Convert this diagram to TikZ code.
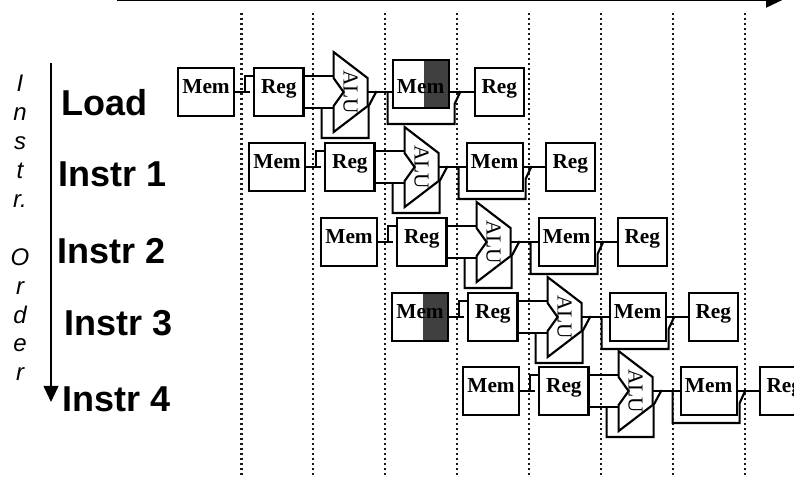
\documentclass[tikz,border=0pt]{standalone}
\usepackage{fontspec}
\setmainfont{Liberation Serif}
\setsansfont{Liberation Sans}
\usetikzlibrary{arrows.meta,positioning}
\definecolor{figdark}{gray}{0.25}
\definecolor{figgrid}{gray}{0.1}

\begin{document}
\begin{tikzpicture}[
    x=0.75pt, y=-0.75pt,
    unit/.style={rectangle, draw=black, line width=1.6pt, inner sep=0pt,
        minimum height=36pt, text height=8pt, text depth=6.5pt,
        font=\fontsize{16}{16}\selectfont\bfseries},
    memunit/.style={unit, minimum width=42pt},
    regunit/.style={unit, minimum width=37pt},
    memstall/.style={memunit, path picture={
        \fill[figdark] ([xshift=-18.75pt]path picture bounding box.south east) rectangle (path picture bounding box.north east);}},
    memlift/.style={memstall, text height=20pt, yshift=6pt, xshift=-2.25pt},
    aluunit/.style={rectangle, inner sep=0pt, outer sep=0pt, minimum width=25.5pt,
        minimum height=60pt, font=\fontsize{16}{16}\selectfont},
    pipe/.style={draw=black, line width=1.6pt},
    instr/.style={anchor=base west, inner sep=0pt, font=\fontsize{27}{27}\selectfont\sffamily\bfseries},
    phase/.style={draw=figgrid, line width=1.6pt, dash pattern=on 1.6pt off 2.15pt},
    timeline/.style={-{Triangle[length=12pt,width=11pt]}, draw=black, line width=1.5pt}
]
    \useasboundingbox (0,0) rectangle (794,477);
    \clip (0,0) rectangle (794,477);

    % clock phases
    \foreach \i/\x in {1/241.5,2/313,3/385,4/457,5/529,6/601,7/673,8/745} {
        \coordinate (top\i) at (\x,13);
        \coordinate (bot\i) at (\x,475);
        \draw[phase] (top\i) -- (bot\i);
    }

    % axes
    \coordinate (timestart) at (117,0.2);
    \coordinate (timeend) at (782,0.2);
    \draw[timeline] (timestart) -- (timeend);
    \coordinate (orderstart) at (51,63);
    \coordinate (orderend) at (51,402);
    \draw[timeline] (orderstart) -- (orderend);

    \node[align=center, inner sep=0pt, font=\fontsize{18}{21.7}\selectfont\sffamily\itshape] (order) at (20,228)
        {I\\n\\s\\t\\r.\\ \\O\\r\\d\\e\\r};

    \node[instr] (name0) at (61,116) {Load};
    \node[instr] (name1) at (58,187) {Instr 1};
    \node[instr] (name2) at (57,264) {Instr 2};
    \node[instr] (name3) at (64,336) {Instr 3};
    \node[instr] (name4) at (62,412) {Instr 4};

    % one row per instruction
    \foreach \row/\px/\py/\fetchstyle/\accessstyle in {
        0/177/67/memunit/memlift,
        1/248/142/memunit/memunit,
        2/320/217/memunit/memunit,
        3/391/292/memstall/memunit,
        4/462/366/memunit/memunit} {
        \node[\fetchstyle, anchor=north west] (fetch\row) at (\px,\py) {Mem};
        \node[regunit, right=13.5pt of fetch\row] (decode\row) {Reg};
        \node[aluunit, right=21.75pt of decode\row] (alu\row) {\rotatebox{-90}{ALU}\hspace{14pt}};
        \node[right=20.25pt of alu\row, \accessstyle] (access\row) {Mem};
        \node[regunit, right=79.5pt of alu\row] (write\row) {Reg};

        \draw[pipe, line join=miter] (alu\row.north west) -- ([yshift=-19.5pt]alu\row.north east)
            -- ([yshift=19.5pt]alu\row.south east) -- (alu\row.south west)
            -- ([yshift=19.5pt]alu\row.south west) -- ([xshift=7.5pt]alu\row.west)
            -- ([yshift=-19.5pt]alu\row.north west) -- cycle;

        \draw[pipe] (fetch\row.east) -- ([xshift=-2pt]decode\row.west);
        \draw[pipe] ([xshift=7.5pt]fetch\row.east) |- ([yshift=12pt]decode\row.west);
        \draw[pipe] ([yshift=12pt]decode\row.east) -- ([yshift=12pt]decode\row.east -| alu\row.west);
        \draw[pipe] ([yshift=-12pt]decode\row.east) -- ([yshift=-12pt]decode\row.east -| alu\row.west);
        \draw[pipe] ([xshift=-9pt,yshift=-12pt]alu\row.west) |- ([xshift=.75pt,yshift=-4.5pt]alu\row.south east)
            -- ([xshift=.75pt,yshift=19.5pt]alu\row.south east) -- ([xshift=6.75pt,yshift=.75pt]alu\row.east);
        \draw[pipe] (alu\row.east) -- (alu\row.east -| access\row.west);
        \draw[pipe] ([xshift=15pt]alu\row.east) -- ([xshift=15pt,yshift=-24pt]alu\row.east)
            -- ([xshift=65.25pt,yshift=-24pt]alu\row.east) -- ([xshift=65.25pt,yshift=-9pt]alu\row.east)
            -- ([xshift=69.75pt,yshift=.75pt]alu\row.east);
        \draw[pipe] (alu\row.east -| access\row.east) -- (write\row.west);
    }
\end{tikzpicture}
\end{document}
